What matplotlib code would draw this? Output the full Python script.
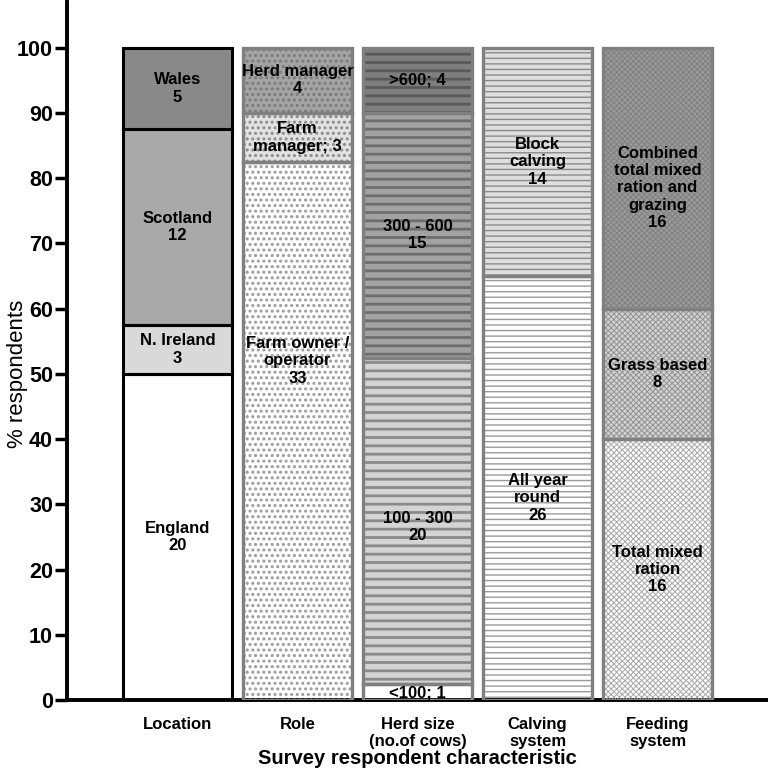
import numpy as np
import matplotlib
matplotlib.use("Agg")
import matplotlib.pyplot as plt

plt.rcParams['font.family'] = ['Liberation Sans', 'DejaVu Sans']

categories = ["Location", "Role", "Herd size\n(no.of cows)", "Calving\nsystem", "Feeding\nsystem"]

location_labels = ["England", "N. Ireland", "Scotland", "Wales"]
location_counts = [20, 3, 12, 5]
role_labels = ["Farm owner /\noperator", "Farm\nmanager;", "Herd manager"]
role_counts = [33, 3, 4]
herd_labels = ["<100;", "100 - 300", "300 - 600", ">600;"]
herd_counts = [1, 20, 15, 4]
calving_labels = ["All year\nround", "Block\ncalving"]
calving_counts = [26, 14]
feeding_labels = ["Total mixed\nration", "Grass based", "Combined\ntotal mixed\nration and\ngrazing"]
feeding_counts = [16, 8, 16]

total_respondents = 40

groups = [
    (location_labels, location_counts),
    (role_labels, role_counts),
    (herd_labels, herd_counts),
    (calving_labels, calving_counts),
    (feeding_labels, feeding_counts),
]

# styles
face_colors = [
    ["#ffffff", "#d9d9d9", "#a9a9a9", "#898989"],
    ["#ffffff", "#e2e2e2", "#a4a4a4"],
    ["#ffffff", "#d4d4d4", "#a2a2a2", "#7e7e7e"],
    ["#ffffff", "#dedede"],
    ["#ffffff", "#d2d2d2", "#9a9a9a"],
]
hatch_colors = [
    [None, None, None, None],
    ["#9a9a9a", "#8a8a8a", "#7a7a7a"],
    [None, "#8a8a8a", "#6e6e6e", "#5a5a5a"],
    ["#9a9a9a", "#8a8a8a"],
    ["#a8a8a8", "#929292", "#808080"],
]
hatches = [None, "...", "--", "---", "xxxxxx"]
hatch_lw = [1.0, 1.4, 2.0, 1.0, 0.7]
edge_colors = ["#000000", "#808080", "#808080", "#808080", "#808080"]
edge_lw = [2.2, 2.4, 2.4, 2.4, 2.4]

fig = plt.figure(figsize=(7.68, 7.71), dpi=100)
ax = fig.add_axes([67/768, 71/771, 1 - 67/768, (700 - 2)/771])

width = 0.91
for i, (labels, counts) in enumerate(groups):
    pct = np.array(counts) / total_respondents * 100
    bottoms = np.concatenate([[0], np.cumsum(pct)[:-1]])
    for j in range(len(counts)):
        ax.bar(i, pct[j], bottom=bottoms[j], width=width, color=face_colors[i][j],
               edgecolor='none', linewidth=0, zorder=2)
        if hatches[i] is not None and hatch_colors[i][j] is not None:
            with plt.rc_context({'hatch.linewidth': hatch_lw[i]}):
                ax.bar(i, pct[j], bottom=bottoms[j], width=width, color='none',
                       edgecolor=hatch_colors[i][j], hatch=hatches[i], linewidth=0, zorder=3)
        ax.bar(i, pct[j], bottom=bottoms[j], width=width, color='none',
               edgecolor=edge_colors[i], linewidth=edge_lw[i], zorder=4)
        # label
        txt = f"{labels[j]}\n{counts[j]}" if not labels[j].endswith(";") else f"{labels[j]} {counts[j]}"
        ymid = bottoms[j] + pct[j] / 2
        if i == 1 and j == 0:
            ymid = 52
        if i == 2 and j == 0:
            ymid = 1.0
        if i == 4 and j == 2:
            ymid = 78.5
        if i == 3 and j == 0:
            ymid = 31
        if i == 2 and j == 1:
            ymid = 26.5
        ax.text(i, ymid, txt, ha='center', va='center', fontsize=12,
                fontweight='bold', zorder=5, linespacing=1.2)

ax.set_xlim(-0.921, 4.92)
ax.set_ylim(0, 107)
ax.set_yticks(np.arange(0, 101, 10))
ax.set_xticks(range(len(categories)))
ax.set_xticklabels(categories, fontsize=12, fontweight='bold', linespacing=1.2)
ax.tick_params(axis='x', length=0, pad=12)
ax.tick_params(axis='y', length=9, width=2.5, labelsize=15.5, pad=1)
for lab in ax.get_yticklabels():
    lab.set_fontweight('bold')
for s in ['top', 'right']:
    ax.spines[s].set_visible(False)
for s in ['left', 'bottom']:
    ax.spines[s].set_linewidth(2.8)

ax.set_ylabel("% respondents", fontsize=16)
ax.yaxis.set_label_coords(-0.056, 0.5 * 100 / 107)
ax.set_xlabel("Survey respondent characteristic", fontsize=14.5, fontweight='bold', labelpad=0)

fig.savefig("out.png", dpi=100)
